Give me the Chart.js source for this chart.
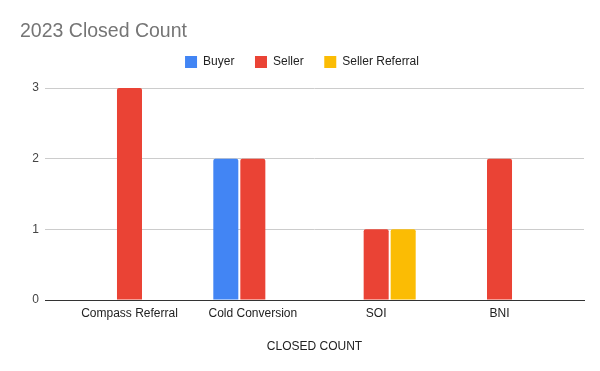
<!DOCTYPE html>
<html>
<head>
<meta charset="utf-8">
<script src="https://cdn.jsdelivr.net/npm/chart.js@4"></script>
<style>
  html, body { margin: 0; padding: 0; background: #fff; }
  #wrap { width: 600px; height: 371px; }
</style>
</head>
<body>
<div id="wrap"><canvas id="chart" width="600" height="371"></canvas></div>
<script>
const categories = ['Compass Referral', 'Cold Conversion', 'SOI', 'BNI'];
const buyer = [null, 2, null, null];
const seller = [3, 2, 1, 2];
const sellerReferral = [null, null, 1, null];
const yTicks = [0, 1, 2, 3];

const FONT = '"Liberation Sans", Arial, sans-serif';

// turn a series into {x, y} points on the index axis
function points(values) {
    return values.map((v, i) => ({ x: i, y: v }));
}

// a bit more room under the legend
const legendGap = {
    id: 'legendGap',
    beforeInit(chart) {
        const fit = chart.legend.fit;
        chart.legend.fit = function () {
            fit.call(this);
            this.height += 10;
        };
    }
};

document.addEventListener('DOMContentLoaded', function () {
    const ctx = document.getElementById('chart').getContext('2d');
    new Chart(ctx, {
        type: 'bar',
        data: {
            datasets: [
                { label: 'Buyer', data: points(buyer), backgroundColor: '#4285F4' },
                { label: 'Seller', data: points(seller), backgroundColor: '#EA4335' },
                { label: 'Seller Referral', data: points(sellerReferral), backgroundColor: '#FBBC04' }
            ]
        },
        options: {
            responsive: false,
            animation: false,
            categoryPercentage: 0.657,
            barPercentage: 0.926,
            borderRadius: 2,
            layout: { padding: { left: 20, right: 16, top: 0, bottom: 0 } },
            plugins: {
                title: {
                    display: true,
                    text: '2023 Closed Count',
                    align: 'start',
                    color: '#757575',
                    font: { family: FONT, size: 19.5, weight: 'normal' },
                    padding: { top: 20, bottom: -8 }
                },
                legend: {
                    display: true,
                    position: 'top',
                    labels: {
                        boxWidth: 12,
                        boxHeight: 12,
                        padding: 20.6,
                        color: '#222',
                        font: { family: FONT, size: 12 }
                    }
                },
                tooltip: { enabled: false }
            },
            scales: {
                x: {
                    type: 'linear',
                    offset: false,
                    min: -0.685,
                    max: 3.685,
                    afterBuildTicks: (scale) => {
                        scale.ticks = categories.map((c, i) => ({ value: i }));
                    },
                    afterFit: (scale) => { scale.height = 71; },
                    grid: { display: false, drawTicks: false },
                    border: { display: true, color: '#333', width: 1 },
                    ticks: {
                        autoSkip: false,
                        maxRotation: 0,
                        padding: 6,
                        color: '#222',
                        font: { family: FONT, size: 12 },
                        callback: (v) => categories[v]
                    },
                    title: {
                        display: true,
                        text: 'CLOSED COUNT',
                        color: '#222',
                        font: { family: FONT, size: 12 },
                        padding: { top: 0, bottom: 17 }
                    }
                },
                y: {
                    min: yTicks[0],
                    max: yTicks[yTicks.length - 1],
                    afterFit: (scale) => { scale.width = 25; },
                    afterBuildTicks: (scale) => {
                        scale.ticks = yTicks.map(v => ({ value: v }));
                    },
                    grid: { color: '#cccccc', drawTicks: false },
                    border: { display: false },
                    ticks: {
                        padding: 6,
                        color: '#444',
                        font: { family: FONT, size: 12 }
                    }
                }
            }
        },
        plugins: [legendGap]
    });
});
</script>
</body>
</html>
